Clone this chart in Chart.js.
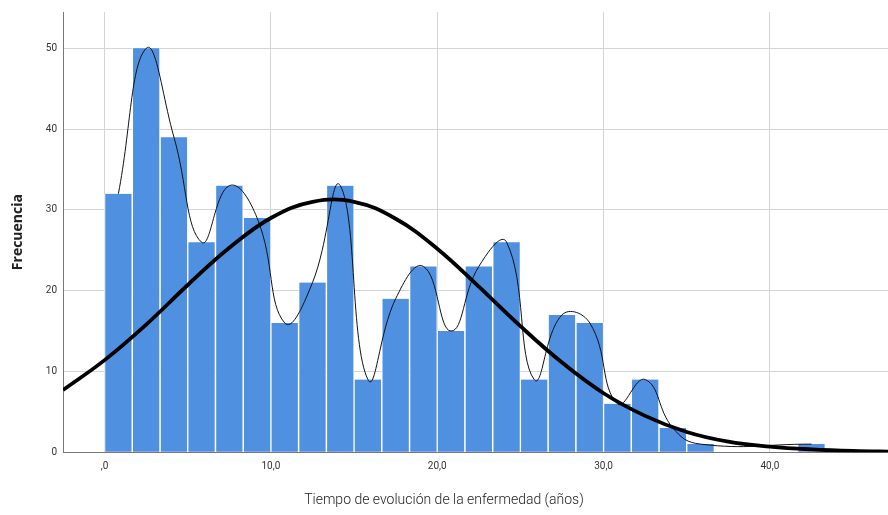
<!DOCTYPE html>
<html>
<head>
<meta charset="utf-8">
<script src="https://cdn.jsdelivr.net/npm/chart.js@4.4.1/dist/chart.umd.min.js"></script>
<style>
    html, body { margin: 0; padding: 0; background: #fff; }
    #wrap { width: 888px; height: 515px; }
</style>
</head>
<body>
<div id="wrap"><canvas id="histChart"></canvas></div>
<script>
// 直方图：组中值与频数
const binCenters = [0.83, 2.5, 4.17, 5.83, 7.5, 9.17, 10.83, 12.5, 14.17, 15.83, 17.5, 19.17, 20.83,
    22.5, 24.17, 25.83, 27.5, 29.17, 30.83, 32.5, 34.17, 35.83, 37.5, 39.17, 40.83, 42.5];
const frequencies = [32, 50, 39, 26, 33, 29, 16, 21, 33, 9, 19, 23, 15,
    23, 26, 9, 17, 16, 6, 9, 3, 1, 0, 0, 0, 1];

// 正态曲线
const normalX = [-2.5, 0, 2.5, 5, 7.5, 10, 12.5, 15, 17.5, 20, 22.5, 25, 27.5, 30, 32.5, 35, 37.5, 40, 42.5, 45, 47.5];
const normalY = [7.7, 11.4, 15.8, 20.7, 25.3, 29.0, 31.0, 31.0, 28.9, 25.2, 20.5, 15.6, 11.1, 7.3, 4.5, 2.5, 1.3, 0.7, 0.35, 0.15, 0.06];

// 坐标轴刻度
const xTicks = [0, 10, 20, 30, 40];
const yTicks = [0, 10, 20, 30, 40, 50];

const barBlue = '#5090e0';
const gridGrey = '#d4d4d4';
const axisGrey = '#777';
const labelFont = 'Roboto, "DejaVu Sans", sans-serif';

// 细线：连接非零频数的柱顶
const barPoints = binCenters.map((x, i) => ({ x: x, y: frequencies[i] }));
const topPoints = barPoints.filter(p => p.y > 0);
const normalPoints = normalX.map((x, i) => ({ x: x, y: normalY[i] }));

const ctx = document.getElementById('histChart');
new Chart(ctx, {
    type: 'bar',
    data: {
        datasets: [
            {
                type: 'line',
                data: normalPoints,
                borderColor: '#000',
                borderWidth: 3.8,
                pointRadius: 0,
                tension: 0.4,
                fill: false,
                order: 0
            },
            {
                type: 'line',
                data: topPoints,
                borderColor: '#111',
                borderWidth: 1,
                pointRadius: 0,
                tension: 0.45,
                fill: false,
                order: 1
            },
            {
                type: 'bar',
                data: barPoints,
                backgroundColor: barBlue,
                borderColor: 'rgba(255,255,255,0.85)',
                borderWidth: { left: 1, right: 1, top: 0, bottom: 0 },
                borderSkipped: false,
                barPercentage: 1.0,
                categoryPercentage: 1.0,
                order: 2
            }
        ]
    },
    options: {
        responsive: true,
        maintainAspectRatio: false,
        animation: false,
        layout: { padding: { top: 10, right: 0, bottom: 0, left: 0 } },
        plugins: {
            legend: { display: false },
            tooltip: { enabled: false },
            title: {
                display: true,
                position: 'bottom',
                text: 'Tiempo de evolución de la enfermedad (años)',
                color: '#222',
                font: { family: labelFont, size: 14, weight: 300 },
                padding: { top: 8, bottom: 6 }
            }
        },
        scales: {
            x: {
                type: 'linear',
                min: -2.5,
                max: 47.1,
                offset: false,
                afterBuildTicks: function(scale) {
                    scale.ticks = xTicks.map(v => ({ value: v }));
                },
                afterFit: function(scale) {
                    scale.height = 32;
                },
                grid: {
                    color: gridGrey,
                    drawTicks: false,
                    offset: false
                },
                border: { display: true, color: axisGrey },
                ticks: {
                    color: '#333',
                    padding: 8,
                    maxRotation: 0,
                    font: { family: labelFont, size: 10 },
                    callback: function(v) {
                        return v === 0 ? ',0' : v + ',0';
                    }
                }
            },
            y: {
                min: 0,
                max: 54.5,
                afterBuildTicks: function(scale) {
                    scale.ticks = yTicks.map(v => ({ value: v }));
                },
                afterFit: function(scale) {
                    scale.width = 63;
                },
                grid: {
                    color: gridGrey,
                    drawTicks: false
                },
                border: { display: true, color: axisGrey },
                ticks: {
                    color: '#333',
                    padding: 6,
                    font: { family: labelFont, size: 10 }
                },
                title: {
                    display: true,
                    text: 'Frecuencia',
                    color: '#222',
                    font: { family: '"Open Sans", sans-serif', size: 14, weight: 'bold' },
                    padding: { top: 10, bottom: 0 }
                }
            }
        }
    }
});
</script>
</body>
</html>
